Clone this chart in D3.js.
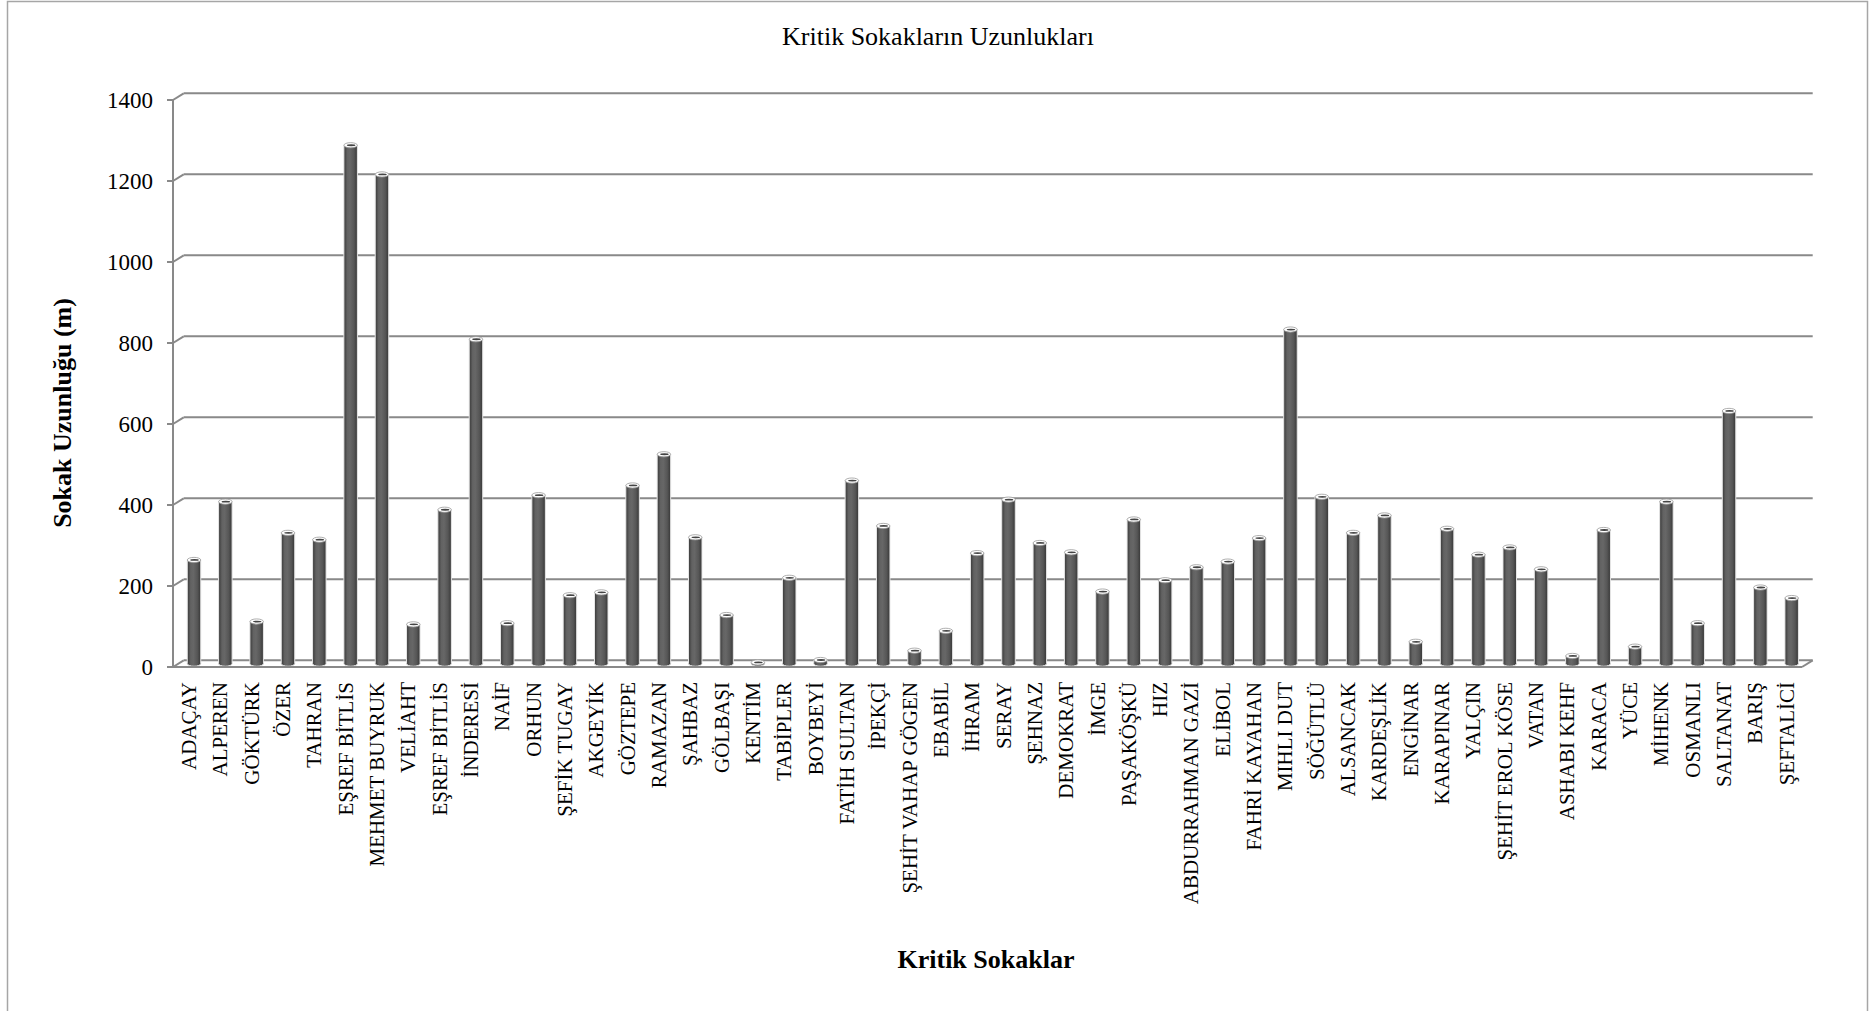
<!DOCTYPE html>
<html>
<head>
<meta charset="utf-8">
<script src="https://cdn.jsdelivr.net/npm/d3@7"></script>
<style>
  html, body { margin: 0; padding: 0; background: #fff; }
  svg { display: block; font-family: "Liberation Serif", "Times New Roman", serif; }
</style>
</head>
<body>
<svg id="chart" width="1876" height="1011"></svg>
<script>
// Street names (categories) and their lengths in metres
const categories = [
  "ADAÇAY", "ALPEREN", "GÖKTÜRK", "ÖZER", "TAHRAN", "EŞREF BİTLİS", "MEHMET BUYRUK",
  "VELİAHT", "EŞREF BİTLİS ", "İNDERESİ", "NAİF", "ORHUN", "ŞEFİK TUGAY", "AKGEYİK",
  "GÖZTEPE", "RAMAZAN", "ŞAHBAZ", "GÖLBAŞI", "KENTİM", "TABİPLER", "BOYBEYİ",
  "FATİH SULTAN", "İPEKÇİ", "ŞEHİT VAHAP GÖGEN", "EBABİL", "İHRAM", "SERAY", "ŞEHNAZ",
  "DEMOKRAT", "İMGE", "PAŞAKÖŞKÜ", "HIZ", "ABDURRAHMAN GAZİ", "ELİBOL", "FAHRİ KAYAHAN",
  "MIHLI DUT", "SÖĞÜTLÜ", "ALSANCAK", "KARDEŞLİK", "ENGİNAR", "KARAPINAR", "YALÇIN",
  "ŞEHİT EROL KÖSE", "VATAN", "ASHABI KEHF", "KARACA", "YÜCE", "MİHENK", "OSMANLI",
  "SALTANAT", "BARIŞ", "ŞEFTALİCİ"
];
const lengths = [
  256, 400, 104, 323, 306, 1280, 1208,
  97, 380, 801, 100, 416, 169, 176,
  440, 517, 312, 120, 3, 212, 9,
  452, 340, 32, 81, 273, 405, 298,
  275, 178, 356, 206, 238, 252, 310,
  825, 412, 323, 366, 54, 333, 269,
  287, 233, 19, 330, 42, 400, 100,
  624, 188, 162
];
const yTicks = [0, 200, 400, 600, 800, 1000, 1200, 1400];

const titleText = "Kritik Sokakların Uzunlukları";
const xTitle = "Kritik Sokaklar";
const yTitle = "Sokak Uzunluğu (m)";

const svg = d3.select("#chart");

// outer chart frame
svg.append("rect")
  .attr("x", 7.5).attr("y", 1.5).attr("width", 1860).attr("height", 1020)
  .attr("fill", "none").attr("stroke", "#a6a6a6").attr("stroke-width", 1.5);

// 3D frame geometry: front plane and depth offset of the back wall
const left = 173, right = 1802;
const depthX = 10.7, depthY = -6.7;

const x = d3.scaleBand().domain(categories).range([left, right]).paddingInner(0).paddingOuter(0);
const y = d3.scaleLinear().domain([0, 1400]).range([667, 100]);

const gridColor = "#898989";

// back-wall gridlines with their diagonal link to the front axis
const grid = svg.append("g");
yTicks.forEach(t => {
  const yf = y(t), yb = y(t) + depthY;
  grid.append("line")
    .attr("x1", left + depthX).attr("x2", right + depthX)
    .attr("y1", yb).attr("y2", yb)
    .attr("stroke", gridColor).attr("stroke-width", 2);
  grid.append("line")
    .attr("x1", left).attr("y1", yf).attr("x2", left + depthX).attr("y2", yb)
    .attr("stroke", gridColor).attr("stroke-width", 2);
});

// floor right edge
svg.append("line")
  .attr("x1", right).attr("y1", y(0)).attr("x2", right + depthX).attr("y2", y(0) + depthY)
  .attr("stroke", gridColor).attr("stroke-width", 2);

// cylinder shading
const defs = svg.append("defs");
const grad = defs.append("linearGradient").attr("id", "cyl").attr("x1", "0%").attr("x2", "100%");
[["0%", "#383838"], ["25%", "#626262"], ["45%", "#676767"], ["75%", "#565656"], ["100%", "#363636"]]
  .forEach(([o, c]) => grad.append("stop").attr("offset", o).attr("stop-color", c));

const barW = 13.5, rx = barW / 2, ry = 2.6;
const barsG = svg.append("g");
categories.forEach((c, i) => {
  const v = lengths[i];
  const cx = x(c) + x.bandwidth() / 2 + depthX / 2;
  const base = y(0) + depthY / 2;
  const top = y(v) + depthY / 2;
  const g = barsG.append("g");
  // bottom cap
  g.append("ellipse").attr("cx", cx).attr("cy", base).attr("rx", rx).attr("ry", ry)
    .attr("fill", "url(#cyl)").attr("stroke", "#e6e6e6").attr("stroke-width", 1);
  // body
  g.append("rect").attr("x", cx - rx).attr("y", top).attr("width", barW).attr("height", Math.max(0, base - top))
    .attr("fill", "url(#cyl)");
  g.append("line").attr("x1", cx - rx).attr("x2", cx - rx).attr("y1", top).attr("y2", base)
    .attr("stroke", "#e6e6e6").attr("stroke-width", 1);
  g.append("line").attr("x1", cx + rx).attr("x2", cx + rx).attr("y1", top).attr("y2", base)
    .attr("stroke", "#e6e6e6").attr("stroke-width", 1);
  // top cap
  g.append("ellipse").attr("cx", cx).attr("cy", top).attr("rx", rx).attr("ry", ry)
    .attr("fill", "#ffffff").attr("stroke", "#9a9a9a").attr("stroke-width", 0.8);
  g.append("ellipse").attr("cx", cx + 0.5).attr("cy", top).attr("rx", rx - 2.5).attr("ry", 0.9)
    .attr("fill", "#444");
});

// floor front edge
svg.append("line")
  .attr("x1", left).attr("x2", right).attr("y1", y(0)).attr("y2", y(0))
  .attr("stroke", gridColor).attr("stroke-width", 2);

// front vertical axis with ticks
svg.append("line")
  .attr("x1", left).attr("x2", left).attr("y1", y(1400)).attr("y2", y(0))
  .attr("stroke", gridColor).attr("stroke-width", 2);
const axisG = svg.append("g");
yTicks.forEach(t => {
  axisG.append("line")
    .attr("x1", left - 6).attr("x2", left).attr("y1", y(t)).attr("y2", y(t))
    .attr("stroke", gridColor).attr("stroke-width", 2);
  axisG.append("text")
    .attr("x", 153).attr("y", y(t)).attr("dy", "0.35em")
    .attr("text-anchor", "end").attr("font-size", 23).attr("fill", "#000")
    .text(t);
});

// category labels, rotated
const labelsG = svg.append("g");
categories.forEach(c => {
  const cx = x(c) + x.bandwidth() / 2;
  labelsG.append("text")
    .attr("transform", `translate(${cx},682) rotate(-90)`)
    .attr("text-anchor", "end").attr("dy", "0.35em")
    .attr("font-size", 21).attr("fill", "#000")
    .text(c.trim());
});

// titles
svg.append("text")
  .attr("x", 938).attr("y", 45).attr("text-anchor", "middle")
  .attr("font-size", 26).attr("fill", "#000").text(titleText);

svg.append("text")
  .attr("x", 986).attr("y", 968).attr("text-anchor", "middle")
  .attr("font-size", 26).attr("font-weight", "bold").attr("fill", "#000").text(xTitle);

svg.append("text")
  .attr("transform", "translate(62,413) rotate(-90)")
  .attr("text-anchor", "middle").attr("dy", "0.35em")
  .attr("font-size", 26).attr("font-weight", "bold").attr("fill", "#000").text(yTitle);
</script>
</body>
</html>
